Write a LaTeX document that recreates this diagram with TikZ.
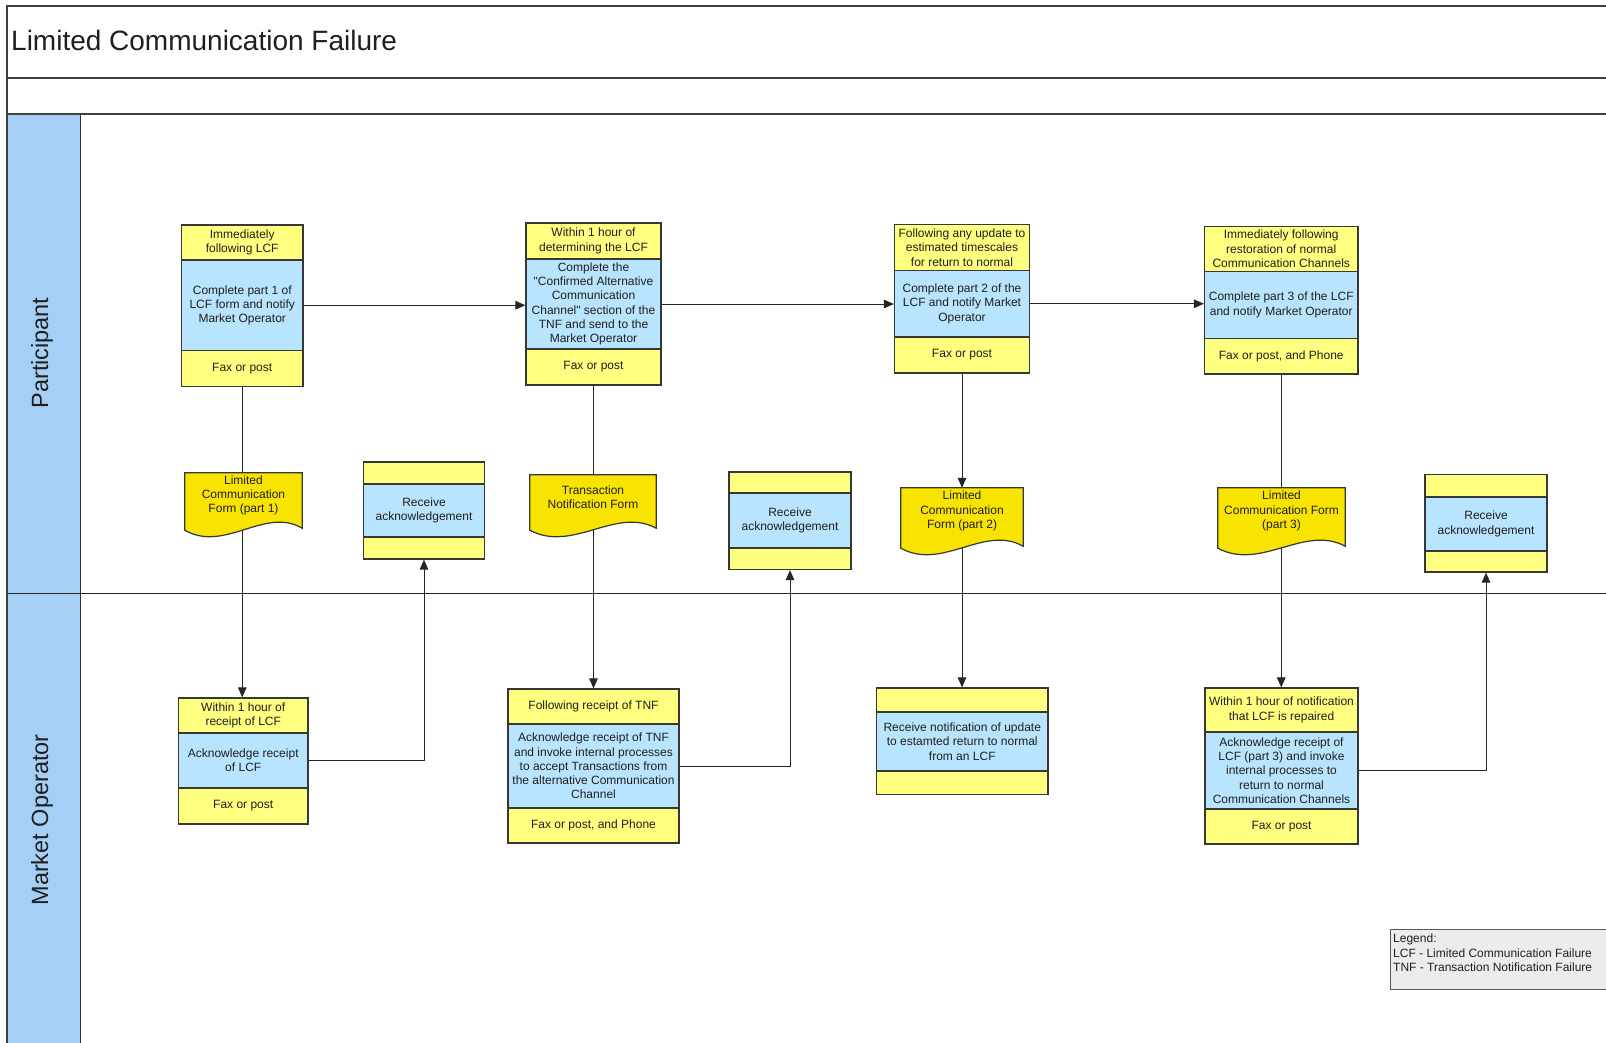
\documentclass[tikz,border=0pt]{standalone}
\usepackage{fontspec}
\setmainfont{Liberation Sans}
\usetikzlibrary{calc,arrows.meta}
\pgfdeclarelayer{bg}
\pgfdeclarelayer{lines}
\pgfdeclarelayer{docs}
\pgfsetlayers{bg,lines,docs,main}
\definecolor{hdr}{RGB}{255,255,128}
\definecolor{mid}{RGB}{185,228,255}
\definecolor{docy}{RGB}{248,228,0}
\definecolor{lanec}{RGB}{166,207,246}
\definecolor{bord}{RGB}{55,55,55}
\definecolor{legfill}{RGB}{236,236,236}
\newcommand\mkbox[7]{\node[secbox, fill=#2, minimum width=#6, minimum height={#5-#4}] (#1) at (#3,{(#4+#5)/2}) {#7};}
\newcommand\docshape[1]{\draw[docst] (#1.north west) -- (#1.north east) -- ($(#1.south east)+(0,-2)$) .. controls ($(#1.south west)!0.68!(#1.south east)+(0,-24)$) and ($(#1.south west)!0.34!(#1.south east)+(0,23)$) .. (#1.south west) -- cycle;}
\begin{document}
\begin{tikzpicture}[x=1pt,y=-1pt,
  every node/.style={font=\fontsize{12}{14.3}\selectfont, text=black!88, inner sep=0pt, align=center},
  secbox/.style={draw=bord, line width=1.2pt},
  docst/.style={draw=bord, line width=1.2pt, fill=docy},
  conn/.style={draw=black!85, line width=1pt},
  arr/.style={conn, -{Triangle[length=10pt,width=8.5pt]}},
  frame/.style={draw=black!75, line width=1.4pt}
]
\useasboundingbox (0,0) rectangle (1606,1042);
\begin{pgfonlayer}{bg}
\fill[white] (0,0) rectangle (1606,1042);
\fill[lanec] (7,114) rectangle (80,1050);
\draw[frame] (7,1050) -- (7,6) -- (1612,6);
\draw[frame] (7,78) -- (1612,78);
\draw[frame] (7,114) -- (1612,114);
\draw[line width=1pt, black!80] (80,114) -- (80,1050);
\draw[line width=1pt, black!85] (7,593) -- (1612,593);
\end{pgfonlayer}

\node[anchor=base west, font=\fontsize{28}{33}\selectfont] (title) at (11,50) {Limited Communication Failure};
\node[rotate=90, font=\fontsize{23.5}{28}\selectfont] (lanep) at (42,353) {Participant};
\node[rotate=90, font=\fontsize{23.5}{28}\selectfont] (lanem) at (42,820) {Market Operator};

% Participant boxes
\mkbox{p1h}{hdr}{242.25}{225}{260}{121.5}{Immediately\\following LCF}
\mkbox{p1m}{mid}{242.25}{260}{350.5}{121.5}{Complete part 1 of\\LCF form and notify\\Market Operator}
\mkbox{p1f}{hdr}{242.25}{350.5}{386.5}{121.5}{Fax or post}

\mkbox{p2h}{hdr}{593.5}{223}{259}{135}{Within 1 hour of\\determining the LCF}
\mkbox{p2m}{mid}{593.5}{259}{349}{135}{Complete the\\\textquotedbl Confirmed Alternative\\Communication\\Channel\textquotedbl{} section of the\\TNF and send to the\\Market Operator}
\mkbox{p2f}{hdr}{593.5}{349}{385}{135}{Fax or post}

\mkbox{p3h}{hdr}{962}{224.5}{270.5}{135}{Following any update to\\estimated timescales\\for return to normal}
\mkbox{p3m}{mid}{962}{270.5}{337}{135}{Complete part 2 of the\\LCF and notify Market\\Operator}
\mkbox{p3f}{hdr}{962}{337}{373}{135}{Fax or post}

\mkbox{p4h}{hdr}{1281.25}{226.5}{271.5}{153.5}{Immediately following\\restoration of normal\\Communication Channels}
\mkbox{p4m}{mid}{1281.25}{271.5}{338.5}{153.5}{Complete part 3 of the LCF\\and notify Market Operator}
\mkbox{p4f}{hdr}{1281.25}{338.5}{374}{153.5}{Fax or post, and Phone}

% Receive acknowledgement boxes
\mkbox{r1h}{hdr}{424}{462}{484}{121}{}
\mkbox{r1m}{mid}{424}{484}{537}{121}{Receive\\acknowledgement}
\mkbox{r1f}{hdr}{424}{537}{559}{121}{}

\mkbox{r2h}{hdr}{790}{472}{493}{122}{}
\mkbox{r2m}{mid}{790}{493}{548}{122}{Receive\\acknowledgement}
\mkbox{r2f}{hdr}{790}{548}{569.5}{122}{}

\mkbox{r3h}{hdr}{1486}{474.5}{497}{122}{}
\mkbox{r3m}{mid}{1486}{497}{551}{122}{Receive\\acknowledgement}
\mkbox{r3f}{hdr}{1486}{551}{572}{122}{}

% Market Operator boxes
\mkbox{mo1h}{hdr}{243.25}{698}{733}{129.5}{Within 1 hour of\\receipt of LCF}
\mkbox{mo1m}{mid}{243.25}{733}{788}{129.5}{Acknowledge receipt\\of LCF}
\mkbox{mo1f}{hdr}{243.25}{788}{824}{129.5}{Fax or post}

\mkbox{mo2h}{hdr}{593.5}{689}{724}{171}{Following receipt of TNF}
\mkbox{mo2m}{mid}{593.5}{724}{808}{171}{Acknowledge receipt of TNF\\and invoke internal processes\\to accept Transactions from\\the alternative Communication\\Channel}
\mkbox{mo2f}{hdr}{593.5}{808}{843}{171}{Fax or post, and Phone}

\mkbox{mo3h}{hdr}{962.25}{688}{712}{171.5}{}
\mkbox{mo3m}{mid}{962.25}{712}{771}{171.5}{Receive notification of update\\to estamted return to normal\\from an LCF}
\mkbox{mo3f}{hdr}{962.25}{771}{794.5}{171.5}{}

\mkbox{mo4h}{hdr}{1281.5}{688}{732}{153}{Within 1 hour of notification\\that LCF is repaired}
\mkbox{mo4m}{mid}{1281.5}{732}{809}{153}{Acknowledge receipt of\\LCF (part 3) and invoke\\internal processes to\\return to normal\\Communication Channels}
\mkbox{mo4f}{hdr}{1281.5}{809}{844}{153}{Fax or post}

% Documents
\node[minimum width=117, minimum height=57] (d1) at (243.5,501.5) {};
\node (d1t) at (243.5,495.5) {Limited\\Communication\\Form (part 1)};
\node[minimum width=126, minimum height=55] (d2) at (593,502.5) {};
\node (d2t) at (593,497) {Transaction\\Notification Form};
\node[minimum width=122, minimum height=60] (d3) at (962,518) {};
\node (d3t) at (962,511) {Limited\\Communication\\Form (part 2)};
\node[minimum width=127, minimum height=60] (d4) at (1281.5,518) {};
\node (d4t) at (1281.5,511) {Limited\\Communication Form\\(part 3)};

\begin{pgfonlayer}{docs}
\docshape{d1}
\docshape{d2}
\docshape{d3}
\docshape{d4}
\end{pgfonlayer}

% Legend
\node[draw=black!65, fill=legfill, line width=1pt, minimum width=226, minimum height=60, anchor=north west] (legendbox) at (1390,929) {};
\node[anchor=north west, align=left] (legend) at (1393,934) {Legend:\\LCF - Limited Communication Failure\\TNF - Transaction Notification Failure};

% Connectors
\begin{pgfonlayer}{lines}
\draw[arr] (p1m.east) -- (p1m.east -| p2m.west);
\draw[arr] (p2m.east) -- (p2m.east -| p3m.west);
\draw[arr] (p3m.east) -- (p3m.east -| p4m.west);
\draw[arr] (p1f.south) -- (p1f.south |- mo1h.north);
\draw[arr] (p2f.south) -- (p2f.south |- mo2h.north);
\draw[arr] (p3f.south) -- (d3.north);
\draw[arr] (d3.center) -- (d3.center |- mo3h.north);
\draw[arr] (p4f.south) -- (p4f.south |- mo4h.north);
\draw[arr] (mo1m.east) -| (r1f.south);
\draw[arr] (mo2m.east) -| (r2f.south);
\draw[arr] (mo4m.east) -| (r3f.south);
\end{pgfonlayer}
\end{tikzpicture}
\end{document}
